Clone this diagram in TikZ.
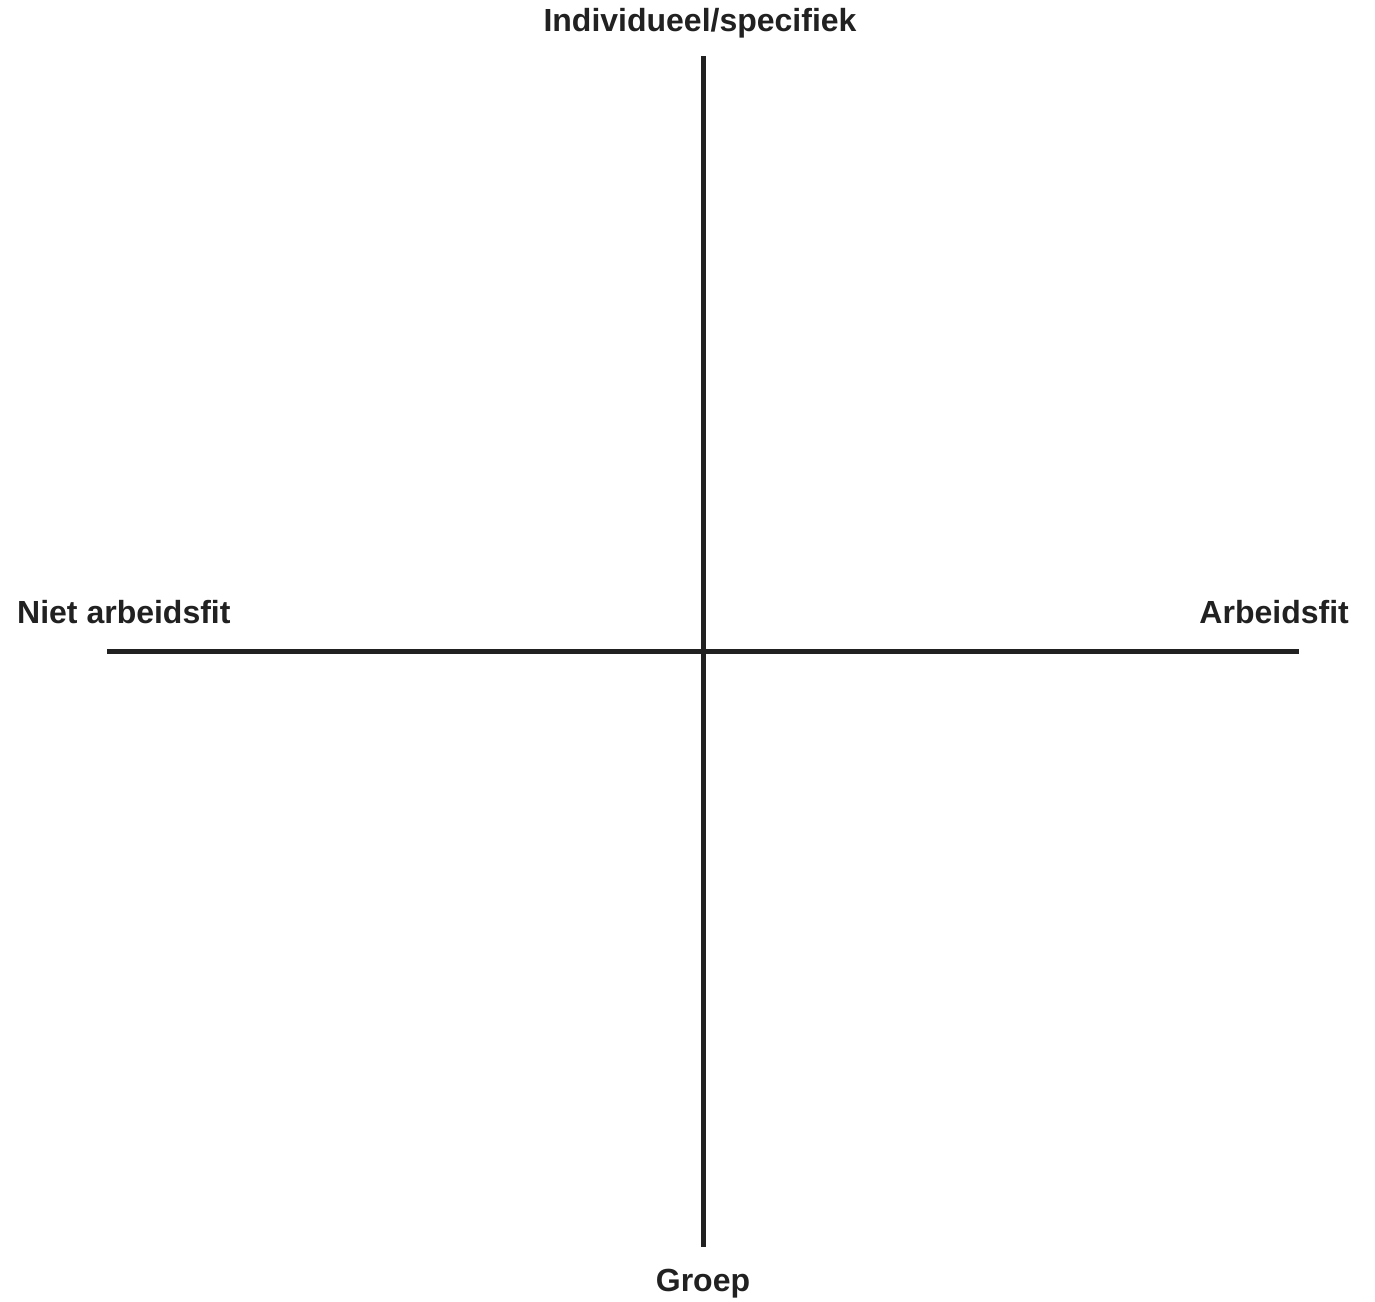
\documentclass[tikz,border=0pt]{standalone}
\usepackage{fontspec}
\setmainfont{Liberation Sans}
\begin{document}
\begin{tikzpicture}[x=1pt,y=-1pt,
  axis/.style={line width=5pt,color=black!87},
  lbl/.style={font=\bfseries\fontsize{32}{38}\selectfont,inner sep=0pt,text=black!87}]
\useasboundingbox (0,0) rectangle (1375,1301);
\coordinate (top) at (703,56);
\coordinate (bot) at (703,1247);
\coordinate (left) at (107,651);
\coordinate (right) at (1299,651);
\draw[axis] (top) -- (bot);
\draw[axis] (left) -- (right);
\node[lbl] (t) at (700,23) {Individueel/specifiek};
\node[lbl,anchor=west] (l) at (17,612) {Niet arbeidsfit};
\node[lbl,anchor=east] (r) at (1349,612) {Arbeidsfit};
\node[lbl] (b) at (703,1284) {Groep};
\end{tikzpicture}
\end{document}
